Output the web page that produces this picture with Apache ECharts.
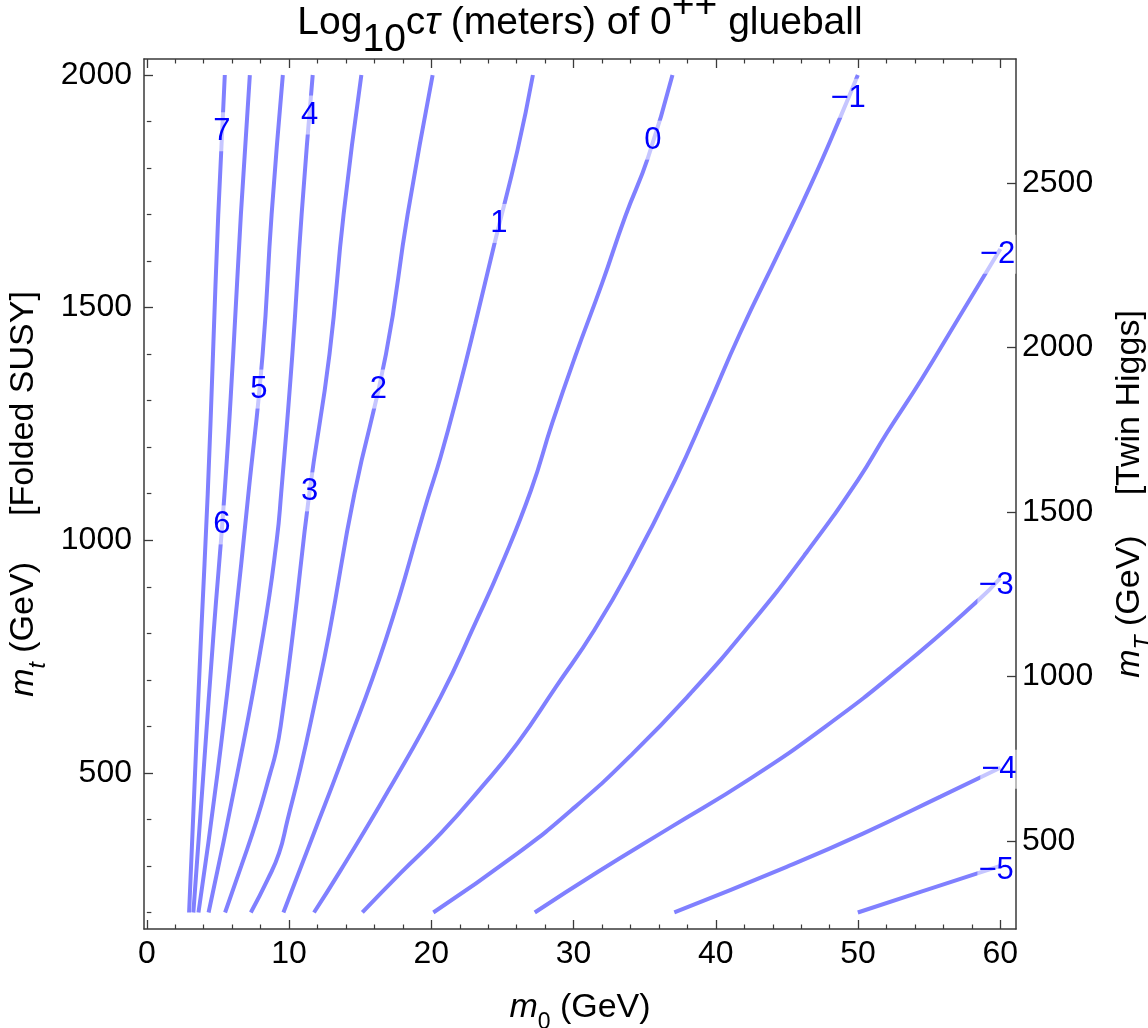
<!DOCTYPE html>
<html>
<head>
<meta charset="utf-8">
<script src="https://cdn.jsdelivr.net/npm/echarts@6/dist/echarts.min.js"></script>
<style>
  html, body { margin: 0; padding: 0; background: #fff; }
  #chart { width: 1148px; height: 1028px; }
</style>
</head>
<body>
<div id="chart"></div>
<script>
// Contour levels of log10(c*tau / meters) for the 0++ glueball
const levels = [7, 6, 5, 4, 3, 2, 1, 0, -1, -2, -3, -4, -5];

// Each contour as [m0 (GeV), m_t (GeV)] pairs
const contour7  = [[5.48, 2000], [5.02, 1700], [4.65, 1400], [4.28, 1100], [3.82, 800], [3.39, 500], [2.97, 200]];
const contour6  = [[7.24, 2000], [6.61, 1700], [6.07, 1400], [5.46, 1100], [4.69, 800], [3.98, 500], [3.27, 200]];
const contour5  = [[9.56, 2000], [8.77, 1700], [8.14, 1400], [7.14, 1100], [6.11, 800], [4.97, 500], [3.63, 200]];
const contour4  = [[11.66, 2000], [10.88, 1700], [10.23, 1400], [9.44, 1100], [9.13, 1000], [8.19, 800], [6.37, 500], [4.34, 200]];
const contour3  = [[15.08, 2000], [13.83, 1700], [12.84, 1400], [11.42, 1100], [10.27, 800], [9.41, 601], [9.06, 543],
                   [8.68, 500], [7.74, 400], [6.64, 300], [5.50, 200]];
const contour2  = [[20.09, 2000], [18.33, 1700], [16.81, 1400], [14.59, 1100], [12.82, 800], [11.75, 642], [10.82, 513],
                   [9.89, 399], [9.30, 328], [8.48, 270], [7.31, 200]];
const contour1  = [[27.14, 2000], [26.06, 1839], [24.44, 1638], [23.09, 1466], [21.92, 1323], [20.66, 1180], [19.72, 1087],
                   [16.79, 786], [13.63, 521], [11.75, 371], [9.60, 200]];
const contour0  = [[36.95, 2000], [35.25, 1824], [33.63, 1696], [32.00, 1552], [30.11, 1395], [28.49, 1251], [27.01, 1108],
                   [24.98, 951], [23.09, 822], [20.66, 664], [17.00, 463], [13.63, 291], [11.75, 200]];
const contourM1 = [[49.98, 2000], [48.76, 1910], [46.72, 1767], [44.51, 1624], [41.70, 1445], [39.35, 1280], [37.14, 1130],
                   [34.17, 951], [31.46, 807], [28.76, 685], [26.06, 564], [23.36, 463], [20.66, 370], [17.85, 285], [15.15, 200]];
const contourM2 = [[60, 1626], [57.13, 1481], [54.44, 1345], [52.01, 1230], [50.00, 1130], [46.33, 972], [42.28, 814],
                   [38.22, 671], [34.17, 542], [30.11, 427], [26.06, 327], [20.14, 200]];
const contourM3 = [[60, 919], [58.49, 872], [53.08, 728], [47.68, 599], [42.28, 485], [36.87, 384], [31.69, 287], [27.27, 200]];
const contourM4 = [[60, 511], [55.79, 449], [50.38, 370], [44.98, 298], [37.08, 200]];
const contourM5 = [[60, 300], [54.44, 245], [49.98, 200]];

const contours = [contour7, contour6, contour5, contour4, contour3, contour2, contour1,
                  contour0, contourM1, contourM2, contourM3, contourM4, contourM5];

// Where each level's number sits on its contour
const labelM0 = [5.27, 5.27, 7.88, 11.45, 11.45, 16.27, 24.75, 35.58, 49.30, 59.80, 59.70, 59.90, 59.70];
const labelMt = [1878, 1033, 1325, 1914, 1104, 1325, 1681, 1860, 1950, 1615, 903, 508, 290];

// Axis ticks
const m0Major = [0, 10, 20, 30, 40, 50, 60];
const m0Minor = [2, 4, 6, 8, 12, 14, 16, 18, 22, 24, 26, 28, 32, 34, 36, 38, 42, 44, 46, 48, 52, 54, 56, 58];
const mtMajor = [500, 1000, 1500, 2000];
const mtMinor = [200, 300, 400, 600, 700, 800, 900, 1100, 1200, 1300, 1400, 1600, 1700, 1800, 1900];
const mTwinMajor = [500, 1000, 1500, 2000, 2500];

const FONT = '"Liberation Sans", Arial, Helvetica, sans-serif';
const FRAME = '#3a3a3a';
const LINE_COLOR = '#8080ff';

// plot ranges (m_T of the twin top = sqrt(2) * m_t)
const M0_MIN = -0.2, M0_MAX = 61.1;
const MT_MIN = 164.5, MT_MAX = 2034.4;
const TWIN = Math.SQRT2;

const base = { fontFamily: FONT, color: '#000', fontWeight: 'normal' };
const richText = {
  n:  Object.assign({ fontSize: 34, lineHeight: 52, verticalAlign: 'middle' }, base),
  i:  Object.assign({ fontSize: 34, lineHeight: 52, verticalAlign: 'middle', fontStyle: 'italic' }, base),
  s:  Object.assign({ fontSize: 23, lineHeight: 23, verticalAlign: 'bottom' }, base),
  si: Object.assign({ fontSize: 23, lineHeight: 23, verticalAlign: 'bottom', fontStyle: 'italic' }, base),
  g1: Object.assign({ fontSize: 34, width: 46, lineHeight: 52 }, base),
  g2: Object.assign({ fontSize: 34, width: 40, lineHeight: 52 }, base)
};
const titleRich = {
  t:   Object.assign({ fontSize: 39, lineHeight: 73, verticalAlign: 'middle' }, base),
  ti:  Object.assign({ fontSize: 39, lineHeight: 73, verticalAlign: 'middle', fontStyle: 'italic' }, base),
  sub: Object.assign({ fontSize: 39, lineHeight: 20, verticalAlign: 'bottom' }, base),
  sup: Object.assign({ fontSize: 39, lineHeight: 63, verticalAlign: 'top' }, base)
};

const tickLabel = { fontSize: 32, fontFamily: FONT, color: '#000' };
const plain = v => String(v);

function frameAxis(extra) {
  return Object.assign({
    type: 'value',
    gridIndex: 0,
    splitLine: { show: false },
    axisLine: { show: false },
    axisLabel: { show: false },
    axisTick: { show: false }
  }, extra);
}

const xAxes = [
  frameAxis({
    position: 'bottom', min: M0_MIN, max: M0_MAX,
    axisLine: { show: true, onZero: false, lineStyle: { color: FRAME, width: 1.5 } },
    axisTick: { show: true, inside: true, length: 9, customValues: m0Major, lineStyle: { color: FRAME, width: 1.3 } },
    axisLabel: Object.assign({ show: true, margin: 9, customValues: m0Major, formatter: plain }, tickLabel),
    name: '{i|m}{s|0}{n| (GeV)}', nameLocation: 'middle', nameGap: 53,
    nameTextStyle: { rich: richText }
  }),
  frameAxis({
    position: 'bottom', min: M0_MIN, max: M0_MAX,
    axisTick: { show: true, inside: true, length: 4.5, customValues: m0Minor, lineStyle: { color: FRAME, width: 1.2 } }
  }),
  frameAxis({
    position: 'top', min: M0_MIN, max: M0_MAX,
    axisLine: { show: true, onZero: false, lineStyle: { color: FRAME, width: 1.5 } },
    axisTick: { show: true, inside: true, length: 9, customValues: m0Major, lineStyle: { color: FRAME, width: 1.3 } }
  }),
  frameAxis({
    position: 'top', min: M0_MIN, max: M0_MAX,
    axisTick: { show: true, inside: true, length: 4.5, customValues: m0Minor, lineStyle: { color: FRAME, width: 1.2 } }
  })
];

const yAxes = [
  frameAxis({
    position: 'left', min: MT_MIN, max: MT_MAX,
    axisLine: { show: true, onZero: false, lineStyle: { color: FRAME, width: 1.5 } },
    axisTick: { show: true, inside: true, length: 9, customValues: mtMajor, lineStyle: { color: FRAME, width: 1.3 } },
    axisLabel: Object.assign({ show: true, margin: 12, customValues: mtMajor, formatter: plain }, tickLabel),
    name: '{i|m}{si|t}{n| (GeV)}{g1| }{n|[Folded SUSY]}', nameLocation: 'middle', nameGap: 88, nameRotate: 90,
    nameTextStyle: { rich: richText }
  }),
  frameAxis({
    position: 'left', min: MT_MIN, max: MT_MAX,
    axisTick: { show: true, inside: true, length: 4.5, customValues: mtMinor, lineStyle: { color: FRAME, width: 1.2 } }
  }),
  frameAxis({
    position: 'right', min: MT_MIN * TWIN, max: MT_MAX * TWIN,
    axisLine: { show: true, onZero: false, lineStyle: { color: FRAME, width: 1.5 } },
    axisTick: { show: true, inside: true, length: 9, customValues: mTwinMajor, lineStyle: { color: FRAME, width: 1.3 } },
    axisLabel: Object.assign({ show: true, margin: 6, customValues: mTwinMajor, formatter: plain }, tickLabel),
    name: '{i|m}{si|T}{n| (GeV)}{g2| }{n|[Twin Higgs]}', nameLocation: 'middle', nameGap: 88, nameRotate: 90,
    nameTextStyle: { rich: richText }
  })
];

const levelText = v => (v < 0 ? '\u2212' + Math.abs(v) : String(v));

const series = levels.map((lvl, k) => ({
  name: 'log10 ctau = ' + lvl,
  type: 'line',
  xAxisIndex: 0,
  yAxisIndex: 0,
  data: contours[k],
  showSymbol: false,
  smooth: 0.5,
  silent: true,
  lineStyle: { color: LINE_COLOR, width: 4 },
  markPoint: {
    silent: true,
    symbol: 'circle',
    symbolSize: 1,
    itemStyle: { color: 'rgba(0,0,0,0)' },
    label: {
      show: true,
      position: 'inside',
      formatter: levelText(lvl),
      fontSize: 31,
      fontFamily: FONT,
      color: '#0000ff',
      backgroundColor: 'rgba(255,255,255,0.55)',
      padding: [5, 1, 3, 1]
    },
    data: [{ coord: [labelM0[k], labelMt[k]] }]
  }
}));

const chart = echarts.init(document.getElementById('chart'), null, { renderer: 'canvas' });
chart.setOption({
  animation: false,
  backgroundColor: '#fff',
  title: {
    text: '{t|Log}{sub|10}{t|c}{ti|\u03c4}{t| (meters) of 0}{sup|++}{t| glueball}',
    left: 580,
    textAlign: 'center',
    top: -13,
    padding: 0,
    textStyle: { fontWeight: 'normal', rich: titleRich }
  },
  grid: { left: 144, top: 59, width: 872, height: 870, containLabel: false, outerBoundsMode: 'none' },
  xAxis: xAxes,
  yAxis: yAxes,
  series: series
});
</script>
</body>
</html>
